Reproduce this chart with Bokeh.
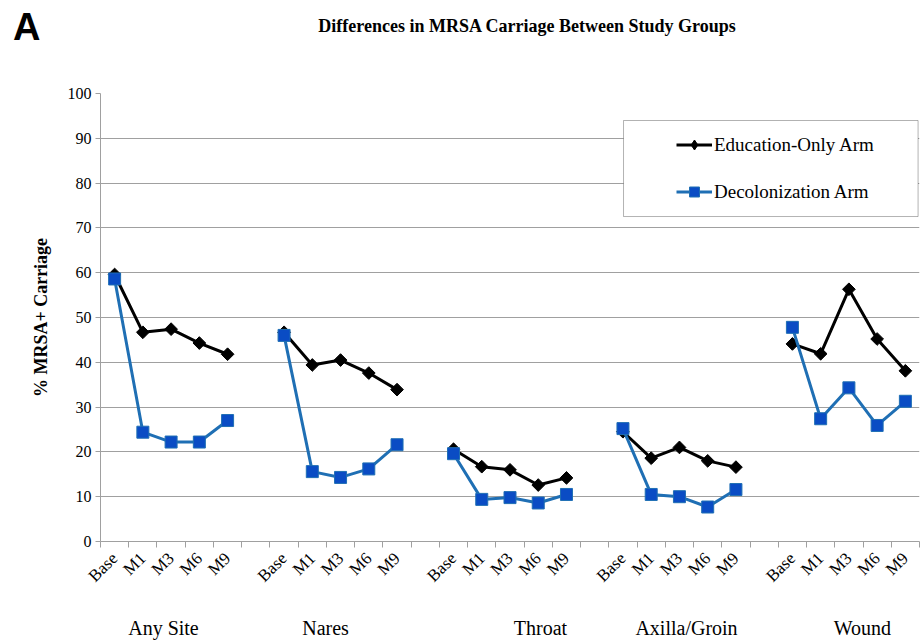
import math
from bokeh.plotting import figure
from bokeh.layouts import column
from bokeh.models import (Range1d, FixedTicker, Label, BoxAnnotation, Legend,
                          LegendItem, ColumnDataSource, LinearAxis)
from bokeh.embed import file_html
from bokeh.resources import INLINE

# ---- data ----
groups = ["Any Site", "Nares", "Throat", "Axilla/Groin", "Wound"]
timepoints = ["Base", "M1", "M3", "M6", "M9"]

edu_any = [59.6, 46.7, 47.4, 44.3, 41.8]
edu_nares = [46.7, 39.4, 40.5, 37.6, 33.9]
edu_throat = [20.6, 16.7, 16.0, 12.6, 14.2]
edu_axilla = [24.5, 18.6, 21.0, 18.0, 16.6]
edu_wound = [44.1, 41.9, 56.3, 45.2, 38.1]

dec_any = [58.6, 24.4, 22.2, 22.2, 27.0]
dec_nares = [46.0, 15.6, 14.3, 16.2, 21.6]
dec_throat = [19.6, 9.4, 9.8, 8.6, 10.5]
dec_axilla = [25.2, 10.5, 10.0, 7.7, 11.6]
dec_wound = [47.8, 27.4, 34.3, 25.9, 31.3]

edu_series = [edu_any, edu_nares, edu_throat, edu_axilla, edu_wound]
dec_series = [dec_any, dec_nares, dec_throat, dec_axilla, dec_wound]

y_ticks = [0, 10, 20, 30, 40, 50, 60, 70, 80, 90, 100]

# ---- category slots (5 per group + one blank separator) ----
per = len(timepoints) + 1
n_slots = len(groups) * per - 1


def build(series):
    xs, ys = [], []
    for g, vals in enumerate(series):
        for i, v in enumerate(vals):
            xs.append(g * per + i)
            ys.append(v)
        xs.append(float("nan"))
        ys.append(float("nan"))
    return ColumnDataSource(data=dict(x=xs, y=ys))


src_edu = build(edu_series)
src_dec = build(dec_series)

SERIF = "Liberation Serif"
GRID = "#a0a0a0"
W = 922
HEAD_H = 52
MAIN_H = 642 - HEAD_H
LEFT = 100
RIGHT = 3

# ---- header (panel letter + title) ----
head = figure(width=W, height=HEAD_H, output_backend="svg",
              toolbar_location=None, title=None,
              x_range=Range1d(LEFT, W - RIGHT), y_range=Range1d(0, HEAD_H),
              x_axis_type=None, min_border_left=LEFT,
              min_border_right=RIGHT, min_border_top=0, min_border_bottom=0)
head.outline_line_color = None
head.grid.visible = False
head.yaxis.ticker = FixedTicker(ticks=[])
head.yaxis.axis_line_color = None
head.yaxis.major_tick_line_color = None
head.yaxis.minor_tick_line_color = None
head.yaxis.axis_label = "A"
head.yaxis.axis_label_orientation = "horizontal"
head.yaxis.axis_label_text_font = "Liberation Sans"
head.yaxis.axis_label_text_font_style = "bold"
head.yaxis.axis_label_text_font_size = "38px"
head.yaxis.axis_label_text_color = "black"
head.yaxis.axis_label_standoff = 60
head.add_layout(Label(x=527, y=HEAD_H - 25,
                      text="Differences in MRSA Carriage Between Study Groups",
                      text_font=SERIF, text_font_style="bold",
                      text_font_size="18px", text_align="center",
                      text_baseline="middle", text_color="black"))

# ---- main chart ----
p = figure(width=W, height=MAIN_H, output_backend="svg", toolbar_location=None,
           title=None,
           x_range=Range1d(-0.5, n_slots - 0.5), y_range=Range1d(0, 100),
           min_border_left=LEFT, min_border_right=RIGHT,
           min_border_top=93 - HEAD_H, min_border_bottom=101)
p.outline_line_color = None

BLUE_LINE = "#1f6fb4"
BLUE_MARK = "#0a4cc4"
le = p.line("x", "y", source=src_edu, line_color="black", line_width=3)
se = p.scatter("x", "y", source=src_edu, marker="square", angle=math.pi / 4,
               size=9, fill_color="black", line_color="black")
ld = p.line("x", "y", source=src_dec, line_color=BLUE_LINE, line_width=3)
sd = p.scatter("x", "y", source=src_dec, marker="square", size=12,
               fill_color=BLUE_MARK, line_color=BLUE_LINE, line_width=1)
# legend swatch marker (diamond), draws nothing in the plot
le_mark = p.scatter(x=[float("nan")], y=[float("nan")], marker="diamond",
                    fill_color="black", line_color="black")

# x axis: labels at slot centres, tick marks at slot boundaries
major = []
overrides = {}
for g in range(len(groups)):
    for i, t in enumerate(timepoints):
        major.append(g * per + i)
        overrides[g * per + i] = t
p.xaxis.ticker = FixedTicker(ticks=major,
                             minor_ticks=[k - 0.5 for k in range(n_slots + 1)])
p.xaxis.major_label_overrides = overrides
p.xaxis.major_label_orientation = math.pi / 4
p.xaxis.major_tick_line_color = None
p.xaxis.major_tick_out = 0
p.xaxis.minor_tick_out = 6
p.xaxis.minor_tick_in = 0
p.xaxis.minor_tick_line_color = GRID
p.xaxis.axis_line_color = GRID
p.xaxis.major_label_text_font = SERIF
p.xaxis.major_label_text_font_size = "17px"
p.xaxis.major_label_text_color = "black"
p.xaxis.major_label_standoff = 8
p.xgrid.grid_line_color = None

# second x axis carrying the group names
group_label_x = [1.73, 7.47, 15.08, 20.25, 26.48]
gaxis = LinearAxis(ticker=FixedTicker(ticks=group_label_x),
                   major_label_overrides=dict(zip(group_label_x, groups)),
                   axis_line_color=None, major_tick_line_color=None,
                   minor_tick_line_color=None, major_tick_out=0,
                   major_label_standoff=21,
                   major_label_text_font=SERIF,
                   major_label_text_font_size="20px",
                   major_label_text_color="black")
p.add_layout(gaxis, "below")

# y axis
p.yaxis.ticker = FixedTicker(ticks=y_ticks)
p.yaxis.minor_tick_line_color = None
p.yaxis.major_tick_out = 5
p.yaxis.major_tick_in = 0
p.yaxis.major_tick_line_color = GRID
p.yaxis.axis_line_color = GRID
p.yaxis.major_label_text_font = SERIF
p.yaxis.major_label_text_font_size = "16px"
p.yaxis.major_label_text_color = "black"
p.yaxis.major_label_standoff = 4
p.yaxis.axis_label = "% MRSA+ Carriage"
p.yaxis.axis_label_text_font = SERIF
p.yaxis.axis_label_text_font_style = "bold"
p.yaxis.axis_label_text_font_size = "18px"
p.yaxis.axis_label_text_color = "black"
p.yaxis.axis_label_standoff = 14
p.ygrid.grid_line_color = GRID
p.ygrid.grid_line_width = 1

# legend frame + legend
p.add_layout(BoxAnnotation(left=18.02, right=28.45, bottom=72.54, top=93.97,
                           fill_color="white", fill_alpha=1.0,
                           line_color="black", line_width=1))
legend = Legend(items=[LegendItem(label="Education-Only Arm", renderers=[le, le_mark]),
                       LegendItem(label="Decolonization Arm", renderers=[ld, sd])],
                location=(576, 337), padding=0, margin=0, spacing=22,
                glyph_width=36, glyph_height=25, label_standoff=2,
                label_text_font=SERIF, label_text_font_size="19px",
                label_text_color="black", border_line_color=None,
                background_fill_alpha=0)
p.add_layout(legend)

layout = column(head, p, spacing=0)
open("out.html", "w").write(file_html(layout, INLINE))
